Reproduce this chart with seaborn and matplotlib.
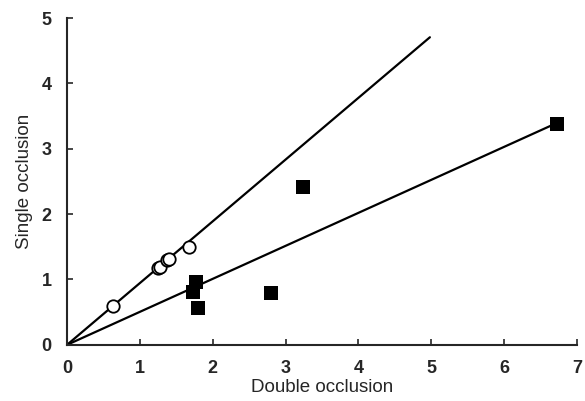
import matplotlib
matplotlib.use("Agg")
import matplotlib.pyplot as plt
import numpy as np
import seaborn as sns
import pandas as pd

# open circles
circle_x = [0.63, 1.25, 1.28, 1.37, 1.40, 1.67]
circle_y = [0.60, 1.17, 1.19, 1.30, 1.31, 1.50]
# filled squares
square_x = [1.73, 1.77, 1.80, 2.80, 3.24, 6.72]
square_y = [0.81, 0.96, 0.57, 0.79, 2.42, 3.38]

# fitted lines through origin
circle_slope = 0.945
square_slope = 0.505
circle_line_x = [0, 4.98]
square_line_x = [0, 6.72]

x_ticks = [0, 1, 2, 3, 4, 5, 6, 7]
y_ticks = [0, 1, 2, 3, 4, 5]

sns.set_style("ticks")
plt.rcParams['font.family'] = ['Liberation Sans', 'DejaVu Sans']

fig = plt.figure(figsize=(5.85, 4.01), dpi=100)
ax = fig.add_axes([0.1145, 0.140, 0.872, 0.815])

ax.plot(circle_line_x, np.array(circle_line_x) * circle_slope, color='black', lw=1.6, zorder=1)
ax.plot(square_line_x, np.array(square_line_x) * square_slope, color='black', lw=1.6, zorder=1)

circles = pd.DataFrame({'x': circle_x, 'y': circle_y})
squares = pd.DataFrame({'x': square_x, 'y': square_y})
sns.scatterplot(data=circles, x='x', y='y', marker='o', s=80, facecolor='white',
                edgecolor='black', linewidth=1.3, ax=ax, zorder=3)
sns.scatterplot(data=squares, x='x', y='y', marker='s', s=95, color='black',
                edgecolor='black', linewidth=0, ax=ax, zorder=3)

ax.set_xlim(0, 7)
ax.set_ylim(0, 5)
ax.set_xticks(x_ticks)
ax.set_yticks(y_ticks)
ax.tick_params(direction='in', length=4, width=1.2, labelsize=13, pad=11)
for lab in ax.get_xticklabels() + ax.get_yticklabels():
    lab.set_fontweight('bold')
ax.set_xlabel('Double occlusion', fontsize=13.5, labelpad=1)
ax.set_ylabel('Single occlusion', fontsize=13.5, labelpad=6)
sns.despine(ax=ax)
for sp in ['left', 'bottom']:
    ax.spines[sp].set_linewidth(1.5)

plt.savefig('out.png', dpi=100)
